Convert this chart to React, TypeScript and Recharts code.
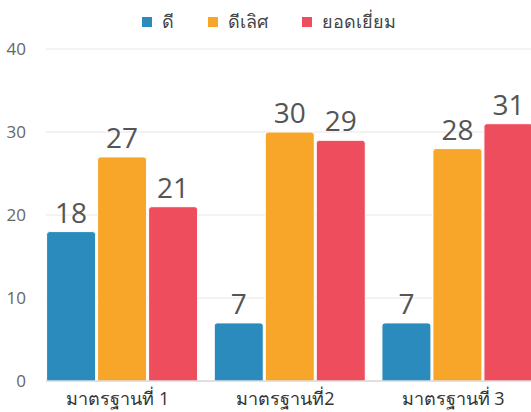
import React from "react";
import { BarChart, Bar, XAxis, YAxis, CartesianGrid, Legend, LabelList } from "recharts";

const categories = ["มาตรฐานที่ 1", "มาตรฐานที่2", "มาตรฐานที่ 3"];
const good = [18, 7, 7];
const veryGood = [27, 30, 28];
const excellent = [21, 29, 31];
const yTicks = [0, 10, 20, 30, 40];

const data = categories.map((name, i) => ({
  name,
  good: good[i],
  veryGood: veryGood[i],
  excellent: excellent[i],
}));

const FONT = "'Open Sans', 'Noto Sans', sans-serif";

const legendItems = [
  { label: "ดี", color: "#2b8bbd" },
  { label: "ดีเลิศ", color: "#f8a629" },
  { label: "ยอดเยี่ยม", color: "#ee4d5d" },
];

const renderLegend = () => (
  <div style={{ display: "flex", justifyContent: "center", fontFamily: FONT, fontSize: 18, color: "#444", paddingLeft: 6 }}>
    {legendItems.map((it) => (
      <div key={it.label} style={{ display: "flex", alignItems: "center", margin: "0 17px" }}>
        <span style={{ display: "inline-block", width: 10, height: 10, background: it.color, marginRight: 10 }} />
        <span>{it.label}</span>
      </div>
    ))}
  </div>
);

export default function App() {
  return (
    <div style={{ position: "absolute", left: 0, top: 0, width: 531, height: 412, overflow: "hidden", background: "#fff" }}>
      <BarChart
        width={546}
        height={412}
        data={data}
        margin={{ top: 49, right: 5, bottom: 0, left: 0 }}
        barCategoryGap={8.6}
        barGap={2}
      >
        <Legend verticalAlign="top" content={renderLegend} wrapperStyle={{ top: 7, left: 0, width: 531, height: 0 }} />
        <CartesianGrid vertical={false} stroke="#e6e6e6" />
        <XAxis
          dataKey="name"
          padding={{ left: -8, right: 0 }}
          axisLine={{ stroke: "#cccccc" }}
          tickLine={false}
          height={31}
          tick={{ fill: "#333", fontSize: 18, fontFamily: FONT, dx: -4 }}
          tickMargin={5}
          interval={0}
        />
        <YAxis
          domain={[0, 40]}
          ticks={yTicks}
          width={46}
          axisLine={false}
          tickLine={false}
          tick={{ fill: "#666", fontSize: 17, fontFamily: FONT }}
          tickMargin={14}
        />
        <Bar dataKey="good" fill="#2b8bbd" stroke="#ffffff" strokeWidth={1} radius={[3, 3, 0, 0]} isAnimationActive={false}>
          <LabelList dataKey="good" position="top" offset={9} fill="#555" fontSize={28} fontFamily={FONT} />
        </Bar>
        <Bar dataKey="veryGood" fill="#f8a629" stroke="#ffffff" strokeWidth={1} radius={[3, 3, 0, 0]} isAnimationActive={false}>
          <LabelList dataKey="veryGood" position="top" offset={9} fill="#555" fontSize={28} fontFamily={FONT} />
        </Bar>
        <Bar dataKey="excellent" fill="#ee4d5d" stroke="#ffffff" strokeWidth={1} radius={[3, 3, 0, 0]} isAnimationActive={false}>
          <LabelList dataKey="excellent" position="top" offset={9} fill="#555" fontSize={28} fontFamily={FONT} />
        </Bar>
      </BarChart>
    </div>
  );
}
